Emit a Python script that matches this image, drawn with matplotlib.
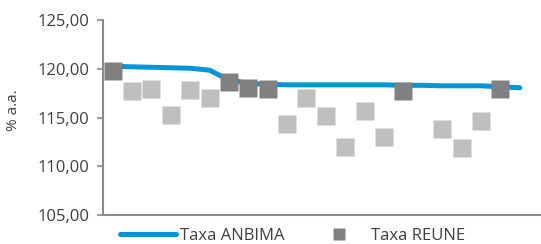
import numpy as np
import matplotlib
matplotlib.use("Agg")
import matplotlib.pyplot as plt

plt.rcParams['font.family'] = ['Open Sans', 'DejaVu Sans']

n = 22
x = np.arange(n)
nan = np.nan
anbima = [120.25, 120.2, 120.15, 120.1, 120.05, 119.85, 118.85, 118.5, 118.4, 118.35,
          118.35, 118.35, 118.35, 118.35, 118.35, 118.3, 118.3, 118.25, 118.25, 118.25,
          118.15, 118.05]
reune = [119.75, nan, nan, nan, nan, nan, 118.67, 117.99, 117.96, nan,
         nan, nan, nan, nan, nan, 117.72, nan, nan, nan, nan, 117.96, nan]
outros = [nan, 117.71, 117.96, 115.3, 117.86, 117.04, nan, nan, nan, 114.29,
          117.04, 115.2, 112.0, 115.71, 112.95, nan, nan, 113.85, 111.91, 114.6, nan, nan]
yticks = [105, 110, 115, 120, 125]
ytick_labels = ["105,00", "110,00", "115,00", "120,00", "125,00"]

fig = plt.figure(figsize=(5.41, 2.44), dpi=100)
ax = fig.add_axes([103/541, 29/244, 438/541, 195/244])

ax.plot(x, anbima, color='#0096D6', lw=3.6, solid_capstyle='round', zorder=2,
        label='Taxa ANBIMA')
ax.plot(x, outros, ls='none', marker='s', ms=13.5, color='#BFBFBF', mec='none', zorder=3)
ax.plot(x, reune, ls='none', marker='s', ms=13.5, color='#808080', mec='none', zorder=4,
        label='Taxa REUNE')

ax.set_xlim(-0.5, 22.1)
ax.set_ylim(105, 125)
ax.set_yticks(yticks)
ax.set_yticklabels(ytick_labels)
ax.set_xticks([])
for s in ['top', 'right']:
    ax.spines[s].set_visible(False)
for s in ['left', 'bottom']:
    ax.spines[s].set_color('#8C8C8C')
    ax.spines[s].set_linewidth(1.5)
ax.tick_params(axis='y', colors='#8C8C8C', length=4, width=1.2, labelcolor='#404040',
               labelsize=12, pad=6)
ax.set_ylabel('% a.a.', color='#404040', fontsize=11, labelpad=4)
ax.yaxis.set_label_coords(-0.187, 0.538)

leg = fig.legend(loc='center', bbox_to_anchor=(0.541, 1 - 236/244), ncol=2, frameon=False,
                 fontsize=12, handlelength=3.35, columnspacing=1.55, handletextpad=0.25,
                 labelcolor='#404040', borderpad=0, borderaxespad=0)
leg.legend_handles[1].set_markersize(8)

fig.savefig('out.png', dpi=100)
